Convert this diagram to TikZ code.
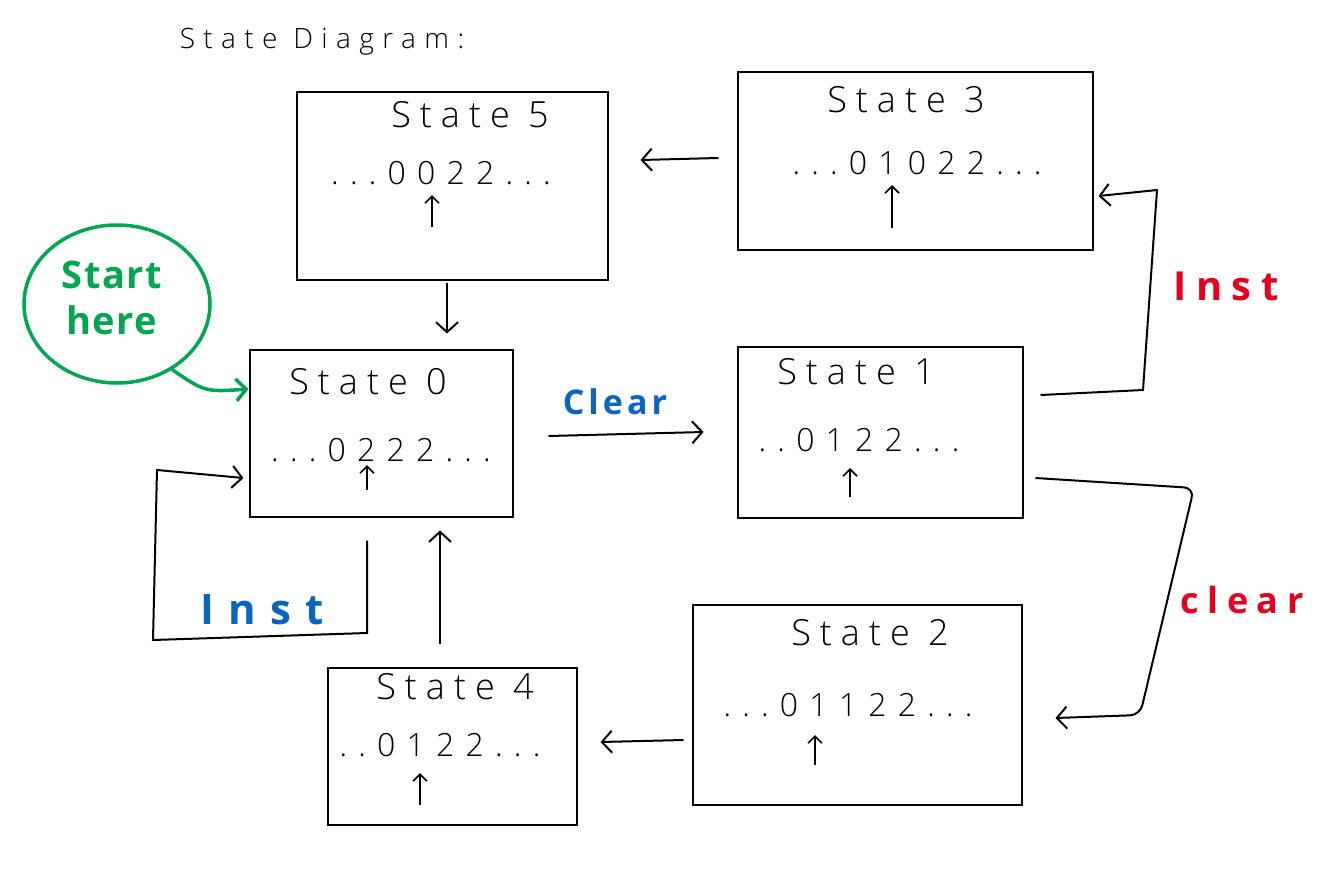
\documentclass[tikz,border=0pt]{standalone}
\usepackage{fontspec}
\setmainfont{Open Sans}
\newfontfamily\hand[LetterSpace=25]{Open Sans Light}
\newfontfamily\handseq[LetterSpace=35]{Open Sans Light}
\newfontfamily\handtitle[LetterSpace=30]{Open Sans Light}
\newfontfamily\handb[LetterSpace=12]{Open Sans}
\newfontfamily\handg[LetterSpace=4]{Open Sans}
\newfontfamily\handbw[LetterSpace=24]{Open Sans}
\newfontfamily\handbx[LetterSpace=34]{Open Sans}
\usetikzlibrary{arrows.meta,calc,shapes.geometric}
\definecolor{gr}{HTML}{00A651}
\definecolor{bl}{HTML}{0A64C0}
\definecolor{rd}{HTML}{E5001F}
\begin{document}
\begin{tikzpicture}[x=1pt,y=-1pt, line width=2pt,
  box/.style={draw, rectangle, inner sep=0pt},
  ttl/.style={font=\hand\fontsize{36}{40}\selectfont},
  seq/.style={font=\handseq\fontsize{32}{36}\selectfont},
  ptr/.style={-{Straight Barb[length=7pt,width=14pt]}, line width=1.6pt},
  conn/.style={-{Straight Barb[length=10pt,width=22pt]}},
]
\useasboundingbox (0,0) rectangle (1320,876);

% title
\node[font=\handtitle\fontsize{28}{32}\selectfont] (title) at (322,42) {State Diagram:};

% boxes
\node[box, minimum width=311pt, minimum height=188pt] (S5) at (452,186) {};
\node[box, minimum width=355pt, minimum height=178pt] (S3) at (915,161) {};
\node[box, minimum width=263pt, minimum height=167pt] (S0) at (381,433) {};
\node[box, minimum width=285pt, minimum height=171pt] (S1) at (880,432) {};
\node[box, minimum width=329pt, minimum height=200pt] (S2) at (857,705) {};
\node[box, minimum width=249pt, minimum height=157pt] (S4) at (452,746) {};

% state titles and tapes
\node[ttl] (S5t) at (470,115) {State 5};
\node[seq] (S5s) at (441,173) {...0022...};
\node[ttl] (S3t) at (906,100) {State 3};
\node[seq] (S3s) at (917,163) {...01022...};
\node[ttl] (S0t) at (368,382) {State 0};
\node[seq] (S0s) at (381,450) {...0222...};
\node[ttl] (S1t) at (856,372) {State 1};
\node[seq] (S1s) at (859,440) {..0122...};
\node[ttl] (S2t) at (870,633) {State 2};
\node[seq] (S2s) at (848,705) {...01122...};
\node[ttl] (S4t) at (455,687) {State 4};
\node[seq] (S4s) at (440,745) {..0122...};

% head pointers
\coordinate (p5a) at (432,227); \coordinate (p5b) at (432,195);
\coordinate (p3a) at (892,228); \coordinate (p3b) at (892,185);
\coordinate (p0a) at (367,490); \coordinate (p0b) at (367,465);
\coordinate (p1a) at (850,497); \coordinate (p1b) at (850,468);
\coordinate (p2a) at (815,765); \coordinate (p2b) at (815,735);
\coordinate (p4a) at (420,805); \coordinate (p4b) at (420,773);
\foreach \i in {5,3,0,1,2,4} {\draw[ptr] (p\i a) -- (p\i b);}

% start
\node[draw=gr, line width=3.5pt, ellipse, minimum width=186pt, minimum height=158pt] (start) at (117,304) {};
\node[text=gr, align=center, font=\handg\bfseries\fontsize{38}{46}\selectfont] (startt) at (112,298) {Start\\here};
\draw[gr, line width=3.5pt, conn] (start.-50) .. controls (205,392) .. ($(S0.north west)!0.24!(S0.south west)$);

% connectors
\draw[conn] ($(S3.west)+(-18,-3)$) -- ($(S5.east)+(32,-26)$);
\draw[conn] ($(S5.south)+(-5,2)$) -- ($(S0.north)+(66,-15)$);
\draw[conn] ($(S0.east)+(35,3)$) -- ($(S1.west)+(-33,0)$);
\draw[conn] ($(S4.north)+(-12,-23)$) -- ($(S0.south)+(59,13)$);
\draw[conn] ($(S2.west)+(-8,35)$) -- ($(S4.east)+(23,-4)$);
\draw[conn] ($(S1.east)+(17,-37)$) -- (1143,390) -- (1157,190) -- ($(S3.east)+(5,35)$);
\draw[conn, rounded corners=10pt] ($(S1.east)+(12,46)$) -- (1194,488) -- (1140,715) -- ($(S2.east)+(33,13)$);
\draw[conn] ($(S0.south)+(-14,23)$) -- (367,633) -- (153,640) -- (157,470) -- ($(S0.west)+(-5,45)$);

% labels
\node[text=bl, font=\handb\bfseries\fontsize{34}{38}\selectfont] (clear1) at (615,402) {Clear};
\node[text=rd, font=\handbw\bfseries\fontsize{40}{44}\selectfont] (inst1) at (1226,286) {Inst};
\node[text=rd, font=\handbw\bfseries\fontsize{36}{40}\selectfont] (clear2) at (1242,600) {clear};
\node[text=bl, font=\handbx\bfseries\fontsize{42}{46}\selectfont] (inst2) at (262,610) {Inst};
\end{tikzpicture}
\end{document}
